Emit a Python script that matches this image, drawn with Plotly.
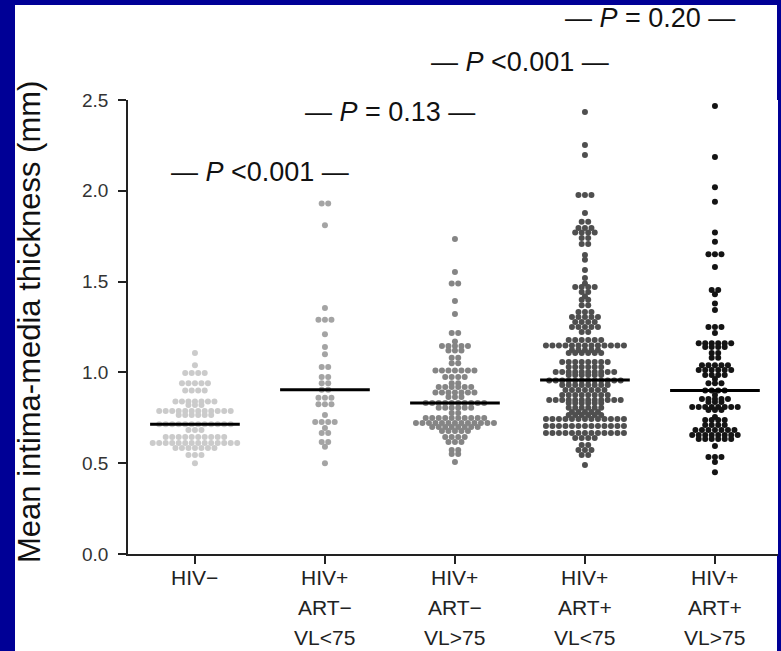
import numpy as np
import plotly.graph_objects as go

# ---------------- data ----------------
categories = ["HIV−", "HIV+<br>ART−<br>VL&lt;75", "HIV+<br>ART−<br>VL&gt;75",
              "HIV+<br>ART+<br>VL&lt;75", "HIV+<br>ART+<br>VL&gt;75"]

# each group: row values (mm) and number of dots in that row
hiv_neg_levels = [1.107, 1.04, 0.997, 0.94, 0.90, 0.84, 0.82, 0.787, 0.765, 0.715,
                  0.683, 0.644, 0.611, 0.584, 0.545, 0.50]
hiv_neg_counts = [1, 1, 4, 5, 4, 7, 3, 12, 6, 12, 3, 10, 14, 7, 3, 1]

art_neg_vl_low_levels = [1.93, 1.81, 1.355, 1.29, 1.21, 1.14, 1.10, 1.03, 0.975, 0.94,
                         0.905, 0.86, 0.825, 0.765, 0.727, 0.694, 0.666, 0.617, 0.59, 0.50]
art_neg_vl_low_counts = [2, 1, 1, 3, 1, 1, 1, 2, 2, 2, 2, 3, 3, 1, 4, 1, 2, 2, 1, 1]

art_neg_vl_high_levels = [1.735, 1.553, 1.49, 1.393, 1.322, 1.217, 1.17, 1.145, 1.12, 1.08,
                          1.05, 1.01, 0.975, 0.94, 0.92, 0.89, 0.865, 0.832, 0.805, 0.776,
                          0.749, 0.722, 0.70, 0.677, 0.644, 0.617, 0.573, 0.55, 0.507]
art_neg_vl_high_counts = [1, 1, 2, 1, 1, 2, 1, 5, 3, 2, 2, 7, 4, 2, 6, 7, 3, 10, 6, 2,
                          10, 13, 8, 5, 4, 3, 2, 2, 1]

art_pos_vl_low_levels = [2.434, 2.252, 2.197, 1.977, 1.878, 1.83, 1.795, 1.77, 1.74, 1.707,
                         1.646, 1.62, 1.564, 1.52, 1.49, 1.47, 1.443, 1.42, 1.40, 1.37,
                         1.333, 1.305, 1.278, 1.25, 1.222, 1.178, 1.148, 1.123, 1.107, 1.057,
                         1.03, 1.002, 0.986, 0.955, 0.93, 0.903, 0.875, 0.848, 0.832, 0.805,
                         0.782, 0.765, 0.743, 0.705, 0.666, 0.639, 0.600, 0.573, 0.545, 0.490]
art_pos_vl_low_counts = [1, 1, 1, 3, 1, 2, 3, 4, 2, 2,
                         1, 1, 1, 1, 1, 4, 2, 1, 2, 2,
                         3, 5, 4, 5, 2, 6, 13, 5, 6, 8,
                         6, 10, 6, 12, 8, 7, 8, 12, 6, 6,
                         5, 6, 13, 13, 13, 4, 2, 3, 2, 1]

art_pos_vl_high_levels = [2.467, 2.186, 2.02, 1.94, 1.77, 1.72, 1.65, 1.58, 1.454, 1.43,
                          1.38, 1.344, 1.25, 1.217, 1.16, 1.14, 1.107, 1.08, 1.04, 1.013,
                          0.986, 0.964, 0.94, 0.90, 0.875, 0.853, 0.837, 0.81, 0.793, 0.754,
                          0.738, 0.71, 0.683, 0.655, 0.633, 0.595, 0.534, 0.507, 0.45]
art_pos_vl_high_counts = [1, 1, 1, 1, 1, 1, 3, 1, 2, 1,
                          1, 1, 3, 1, 6, 4, 2, 2, 5, 6,
                          4, 1, 3, 4, 1, 5, 3, 8, 3, 1,
                          4, 4, 7, 8, 6, 1, 3, 1, 1]

group_medians = [0.715, 0.905, 0.832, 0.958, 0.90]

p_labels = ["&lt;0.001", "= 0.13", "&lt;0.001", "= 0.20"]
p_x = [0.5, 1.5, 2.5, 3.5]
p_y = [2.104, 2.434, 2.709, 2.952]

y_ticks = [0.0, 0.5, 1.0, 1.5, 2.0, 2.5]

# ---------------- styling ----------------
dot_colors = ["#cbcbcb", "#a4a4a4", "#858585", "#4f4f4f", "#141414"]
BLUE = "#000096"
FONT = "Liberation Sans, Arial, sans-serif"

W, H = 781, 651
M_L, M_R, M_T, M_B = 128, 3, 100, 97
X_RANGE = [-0.515, 4.485]
Y_RANGE = [0, 2.5]
pw = W - M_L - M_R
ph = H - M_T - M_B
px_per_cat = pw / (X_RANGE[1] - X_RANGE[0])

groups = [
    (hiv_neg_levels, hiv_neg_counts),
    (art_neg_vl_low_levels, art_neg_vl_low_counts),
    (art_neg_vl_high_levels, art_neg_vl_high_counts),
    (art_pos_vl_low_levels, art_pos_vl_low_counts),
    (art_pos_vl_high_levels, art_pos_vl_high_counts),
]


def row_swarm(levels, counts, d_px=6.5):
    """Prism-style column scatter: dots of one row are centred side by side."""
    xs, ys = [], []
    for v, n in zip(levels, counts):
        for i in range(n):
            xs.append((i - (n - 1) / 2.0) * d_px / px_per_cat)
            ys.append(v)
    return np.array(xs), np.array(ys)


fig = go.Figure()

for gi, (levels, counts) in enumerate(groups):
    offs, vals = row_swarm(levels, counts)
    fig.add_trace(go.Scatter(
        x=gi + offs, y=vals, mode="markers",
        marker=dict(size=6, color=dot_colors[gi], line=dict(width=0)),
        cliponaxis=False, showlegend=False, hoverinfo="y",
    ))

# median lines
mx, my = [], []
for gi, m in enumerate(group_medians):
    mx += [gi - 0.345, gi + 0.345, None]
    my += [m, m, None]
fig.add_trace(go.Scatter(x=mx, y=my, mode="lines",
                         line=dict(color="black", width=3),
                         showlegend=False, hoverinfo="skip", cliponaxis=False))

# P-value annotations (above the axis range -> paper coordinates)
for x, y, lab in zip(p_x, p_y, p_labels):
    fig.add_annotation(x=x, y=y / Y_RANGE[1], xref="x", yref="paper",
                       text="— <i>P</i> " + lab + " —", showarrow=False,
                       font=dict(family=FONT, size=27, color="#111111"),
                       xanchor="center", yanchor="middle")

# category labels, one line at a time (30 px line pitch as in the original)
line_px = [577, 607, 637]
for gi, lab in enumerate(categories):
    for li, part in enumerate(lab.split("<br>")):
        fig.add_annotation(x=gi, y=-(line_px[li] - (H - M_B)) / ph, xref="x", yref="paper",
                           text=part, showarrow=False,
                           font=dict(family=FONT, size=21, color="#222222"),
                           xanchor="center", yanchor="middle")

# y-axis title (rotated)
fig.add_annotation(x=(29 - M_L) / pw, y=(H - M_B - 322) / ph,
                   xref="paper", yref="paper", text="Mean intima-media thickness (mm)",
                   textangle=-90, showarrow=False,
                   font=dict(family=FONT, size=31, color="#111111"),
                   xanchor="center", yanchor="middle")

# white slide panel on blue background
fig.add_shape(type="rect", xref="paper", yref="paper", layer="below",
              x0=(15 - M_L) / pw, x1=(777 - M_L) / pw,
              y0=-0.5, y1=(H - M_B - 5) / ph,
              fillcolor="white", line=dict(width=0))

fig.update_layout(
    width=W, height=H,
    margin=dict(l=M_L, r=M_R, t=M_T, b=M_B, pad=0),
    paper_bgcolor=BLUE, plot_bgcolor="white",
    font=dict(family=FONT, color="#222222"),
    showlegend=False,
)
fig.update_xaxes(range=X_RANGE, tickmode="array", tickvals=list(range(5)),
                 showticklabels=False, showline=True, linecolor="#222222", linewidth=1.5,
                 ticks="outside", ticklen=8, tickwidth=1.5, tickcolor="#222222",
                 showgrid=False, zeroline=False)
fig.update_yaxes(range=Y_RANGE, tickmode="array", tickvals=y_ticks,
                 ticktext=[f"{t:.1f}" for t in y_ticks],
                 showline=True, linecolor="#222222", linewidth=1.5,
                 ticks="outside", ticklen=8, tickwidth=1.5, tickcolor="#222222",
                 showgrid=False, zeroline=False, ticklabelstandoff=6,
                 tickfont=dict(family=FONT, size=19, color="#333333"))

fig.write_html("out.html",
               config={"displayModeBar": False},
               post_script="document.body.style.margin='0';"
                           "document.body.style.background='" + BLUE + "';")
